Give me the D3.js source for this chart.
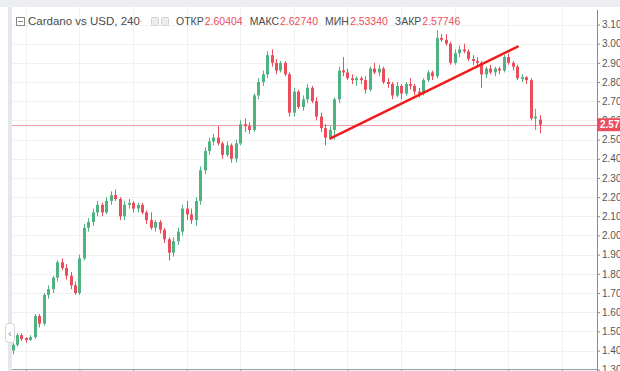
<!DOCTYPE html>
<html>
<head>
<meta charset="utf-8">
<script src="https://cdn.jsdelivr.net/npm/d3@7"></script>
<style>
  body { margin: 0; background: #fff; }
  svg { display: block; font-family: "Liberation Sans", Arial, sans-serif; }
</style>
</head>
<body>
<svg id="chart"></svg>
<script>
// 4h candles, [open, high, low, close]
const candles = [
    [1.40, 1.44, 1.38, 1.43], [1.43, 1.49, 1.42, 1.48], [1.48, 1.49, 1.45, 1.46], [1.465, 1.47, 1.44, 1.455],
    [1.455, 1.48, 1.45, 1.47], [1.47, 1.59, 1.46, 1.58], [1.58, 1.59, 1.52, 1.54], [1.54, 1.70, 1.53, 1.69],
    [1.69, 1.74, 1.67, 1.72], [1.72, 1.79, 1.70, 1.78], [1.78, 1.87, 1.76, 1.86], [1.86, 1.88, 1.82, 1.83],
    [1.83, 1.85, 1.77, 1.79], [1.79, 1.81, 1.72, 1.74], [1.74, 1.76, 1.69, 1.70], [1.70, 1.90, 1.69, 1.88],
    [1.88, 2.06, 1.87, 2.04], [2.04, 2.09, 2.02, 2.07], [2.07, 2.14, 2.05, 2.12], [2.12, 2.18, 2.10, 2.16],
    [2.16, 2.17, 2.10, 2.12], [2.12, 2.20, 2.11, 2.18], [2.18, 2.23, 2.16, 2.21], [2.21, 2.24, 2.18, 2.19],
    [2.19, 2.20, 2.08, 2.10], [2.10, 2.18, 2.08, 2.16], [2.16, 2.19, 2.14, 2.17], [2.17, 2.18, 2.12, 2.14],
    [2.14, 2.17, 2.12, 2.16], [2.16, 2.17, 2.11, 2.12], [2.12, 2.13, 2.06, 2.08], [2.08, 2.12, 2.03, 2.04],
    [2.04, 2.08, 2.02, 2.07], [2.07, 2.08, 2.01, 2.03], [2.03, 2.04, 1.96, 1.98], [1.98, 1.99, 1.87, 1.91],
    [1.91, 1.99, 1.89, 1.97], [1.97, 2.04, 1.95, 2.02], [2.02, 2.16, 2.00, 2.14], [2.14, 2.18, 2.08, 2.11],
    [2.11, 2.14, 2.06, 2.08], [2.08, 2.20, 2.05, 2.18], [2.18, 2.36, 2.16, 2.34], [2.34, 2.46, 2.32, 2.44],
    [2.44, 2.51, 2.42, 2.49], [2.49, 2.53, 2.47, 2.51], [2.51, 2.57, 2.47, 2.48], [2.48, 2.49, 2.40, 2.42],
    [2.42, 2.49, 2.41, 2.47], [2.47, 2.48, 2.38, 2.40], [2.40, 2.50, 2.38, 2.48], [2.48, 2.60, 2.47, 2.58],
    [2.58, 2.61, 2.54, 2.57], [2.57, 2.59, 2.53, 2.55], [2.55, 2.74, 2.54, 2.73], [2.73, 2.82, 2.71, 2.80],
    [2.80, 2.86, 2.78, 2.84], [2.84, 2.96, 2.82, 2.94], [2.94, 2.97, 2.88, 2.90], [2.90, 2.92, 2.84, 2.86],
    [2.86, 2.91, 2.85, 2.90], [2.90, 2.91, 2.83, 2.84], [2.84, 2.85, 2.62, 2.64], [2.64, 2.77, 2.62, 2.75],
    [2.75, 2.76, 2.66, 2.67], [2.67, 2.73, 2.65, 2.71], [2.71, 2.79, 2.69, 2.77], [2.77, 2.78, 2.69, 2.70],
    [2.70, 2.72, 2.60, 2.62], [2.62, 2.64, 2.54, 2.56], [2.56, 2.58, 2.47, 2.51], [2.51, 2.57, 2.50, 2.55],
    [2.55, 2.72, 2.50, 2.71], [2.71, 2.88, 2.69, 2.86], [2.86, 2.93, 2.83, 2.85], [2.85, 2.87, 2.81, 2.82],
    [2.82, 2.84, 2.79, 2.81], [2.81, 2.83, 2.78, 2.82], [2.82, 2.83, 2.79, 2.81], [2.81, 2.83, 2.74, 2.76],
    [2.76, 2.88, 2.75, 2.87], [2.87, 2.90, 2.84, 2.85], [2.85, 2.89, 2.83, 2.87], [2.87, 2.88, 2.79, 2.80],
    [2.80, 2.82, 2.77, 2.79], [2.79, 2.80, 2.71, 2.73], [2.73, 2.80, 2.72, 2.78], [2.78, 2.79, 2.71, 2.74],
    [2.74, 2.80, 2.73, 2.79], [2.79, 2.82, 2.76, 2.78], [2.78, 2.79, 2.73, 2.75], [2.75, 2.77, 2.72, 2.74],
    [2.74, 2.82, 2.73, 2.81], [2.81, 2.86, 2.80, 2.85], [2.85, 2.86, 2.81, 2.83], [2.83, 3.07, 2.82, 3.03],
    [3.03, 3.05, 3.01, 3.02], [3.02, 3.05, 2.99, 3.00], [3.00, 3.01, 2.89, 2.90], [2.90, 2.97, 2.89, 2.95],
    [2.95, 2.99, 2.93, 2.97], [2.97, 3.00, 2.95, 2.96], [2.96, 2.97, 2.91, 2.92], [2.92, 2.94, 2.89, 2.91],
    [2.91, 2.93, 2.88, 2.90], [2.90, 2.91, 2.77, 2.84], [2.84, 2.88, 2.82, 2.87], [2.87, 2.89, 2.84, 2.85],
    [2.85, 2.88, 2.83, 2.87], [2.87, 2.88, 2.84, 2.86], [2.86, 2.94, 2.85, 2.93], [2.93, 2.95, 2.89, 2.90],
    [2.90, 2.91, 2.86, 2.88], [2.88, 2.89, 2.81, 2.82], [2.815, 2.84, 2.80, 2.825], [2.825, 2.83, 2.79, 2.81],
    [2.81, 2.82, 2.60, 2.61], [2.61, 2.66, 2.55, 2.62], [2.60404, 2.62740, 2.53340, 2.57746]
];

const priceTicks = [1.3, 1.4, 1.5, 1.6, 1.7, 1.8, 1.9, 2.0, 2.1, 2.2, 2.3, 2.4, 2.5, 2.6, 2.7, 2.8, 2.9, 3.0, 3.1];
// day-boundary ticks (every 12 candles)
const timeTicks = [3, 15, 27, 39, 51, 63, 75, 87, 99, 111, 123];
// hand-drawn trend line, [candle index, price]
const trendLine = [[71.2, 2.506], [113.1, 2.985]];

const title = 'Cardano vs USD, 240';
const ohlcLabels = ['ОТКР', 'МАКС', 'МИН', 'ЗАКР'];

const W = 620, H = 371;
const axisX = 597, bottomY = 369.5, topY = 7;
const up = '#4fb381', down = '#eb4d5c';

const svg = d3.select('#chart').attr('width', W).attr('height', H);

const x = d3.scaleLinear().domain([0, candles.length - 1]).range([12.5, 539.5]);
const y = d3.scaleLinear().domain([1.3, 3.1]).range([369.7, 24.5]);

svg.append('rect').attr('width', W).attr('height', H).attr('fill', '#fff');
svg.append('rect').attr('width', W).attr('height', topY).attr('fill', '#eceef2');

// grid
const grid = svg.append('g');
grid.selectAll('line.h').data(priceTicks).enter().append('line')
    .attr('x1', 12).attr('x2', axisX)
    .attr('y1', d => Math.round(y(d)) + 0.5).attr('y2', d => Math.round(y(d)) + 0.5)
    .attr('stroke', '#f1f1f1');
grid.selectAll('line.v').data(timeTicks).enter().append('line')
    .attr('x1', d => Math.round(x(d)) + 0.5).attr('x2', d => Math.round(x(d)) + 0.5)
    .attr('y1', topY).attr('y2', bottomY)
    .attr('stroke', '#f1f1f1');

const last = candles[candles.length - 1];

// last price line
svg.append('line')
    .attr('x1', 12).attr('x2', axisX)
    .attr('y1', Math.round(y(last[3])) + 0.5).attr('y2', Math.round(y(last[3])) + 0.5)
    .attr('stroke', '#f29aa3');

// candles
const c = svg.append('g').selectAll('g').data(candles).enter().append('g');
c.append('line')
    .attr('x1', (d, i) => Math.round(x(i)) + 0.5)
    .attr('x2', (d, i) => Math.round(x(i)) + 0.5)
    .attr('y1', d => y(d[1])).attr('y2', d => y(d[2]))
    .attr('stroke', d => d[3] >= d[0] ? up : down)
    .attr('stroke-width', 1);
c.append('rect')
    .attr('x', (d, i) => Math.round(x(i)) - 1)
    .attr('width', 3)
    .attr('y', d => y(Math.max(d[0], d[3])))
    .attr('height', d => Math.max(1, Math.abs(y(d[0]) - y(d[3]))))
    .attr('fill', d => d[3] >= d[0] ? up : down);

// trend line
svg.append('line')
    .attr('x1', x(trendLine[0][0])).attr('y1', y(trendLine[0][1]))
    .attr('x2', x(trendLine[1][0])).attr('y2', y(trendLine[1][1]))
    .attr('stroke', '#f01c1c').attr('stroke-width', 2.5).attr('stroke-linecap', 'round');

// right price axis
const yAxis = svg.append('g')
    .attr('transform', `translate(${axisX},0)`)
    .call(d3.axisRight(y).tickValues(priceTicks).tickFormat(d3.format('.3f')).tickSize(3).tickPadding(2));
yAxis.select('.domain').remove();
yAxis.selectAll('line').attr('stroke', '#8a8a8a');
yAxis.selectAll('text').attr('fill', '#555').attr('font-size', 10)
    .attr('font-family', '"Liberation Sans", Arial, sans-serif');
svg.append('line').attr('x1', axisX + 0.5).attr('x2', axisX + 0.5)
    .attr('y1', topY + 3).attr('y2', H).attr('stroke', '#8a8a8a');

// bottom time axis
const xAxis = svg.append('g')
    .attr('transform', `translate(0,${bottomY})`)
    .call(d3.axisBottom(x).tickValues(timeTicks).tickFormat('').tickSize(3));
xAxis.select('.domain').remove();
xAxis.selectAll('line').attr('stroke', '#9aa0a8');
svg.append('line').attr('x1', 12).attr('x2', axisX)
    .attr('y1', bottomY).attr('y2', bottomY).attr('stroke', '#9aa0a8');

// last price badge
const by = y(last[3]);
svg.append('rect').attr('x', axisX).attr('y', by - 6.5).attr('width', W - axisX).attr('height', 13)
    .attr('fill', down);
svg.append('text').attr('x', axisX + 3).attr('y', by + 3.5)
    .attr('fill', '#fff').attr('font-size', 10).attr('font-weight', 'bold')
    .text(d3.format('.3f')(last[3]));

// left toolbar strip
svg.append('rect').attr('x', 8).attr('y', topY).attr('width', 4).attr('height', H - topY).attr('fill', '#e4e8ee');
svg.append('rect').attr('x', 5.5).attr('y', 323.5).attr('width', 9).attr('height', 19).attr('rx', 3)
    .attr('fill', '#fff').attr('stroke', '#cfd4db');
svg.append('text').attr('x', 10).attr('y', 337).attr('text-anchor', 'middle')
    .attr('fill', '#888').attr('font-size', 10).text('‹');

// header
const hdr = svg.append('g');
hdr.append('rect').attr('x', 16.5).attr('y', 17.5).attr('width', 8).attr('height', 8)
    .attr('fill', 'none').attr('stroke', '#888');
hdr.append('line').attr('x1', 18).attr('x2', 23).attr('y1', 21.5).attr('y2', 21.5).attr('stroke', '#888');
hdr.append('text').attr('x', 28).attr('y', 25).attr('font-size', 11.5).attr('fill', '#4a4a4a').text(title);
hdr.append('line').attr('x1', 139).attr('x2', 142).attr('y1', 21.5).attr('y2', 21.5).attr('stroke', '#ccc');
[151.5, 161.5].forEach(px => {
    hdr.append('rect').attr('x', px).attr('y', 17.5).attr('width', 7).attr('height', 8).attr('rx', 1)
        .attr('fill', '#eee').attr('stroke', '#d2d2d2');
});

let cx = 176;
ohlcLabels.forEach((lab, i) => {
    const t1 = hdr.append('text').attr('x', cx).attr('y', 25).attr('font-size', 10.5)
        .attr('fill', '#4a4a4a').text(lab);
    cx += t1.node().getComputedTextLength() + 1;
    const t2 = hdr.append('text').attr('x', cx).attr('y', 25).attr('font-size', 10.5)
        .attr('fill', down).text(d3.format('.5f')(last[i]));
    cx += t2.node().getComputedTextLength() + 7;
});
</script>
</body>
</html>
